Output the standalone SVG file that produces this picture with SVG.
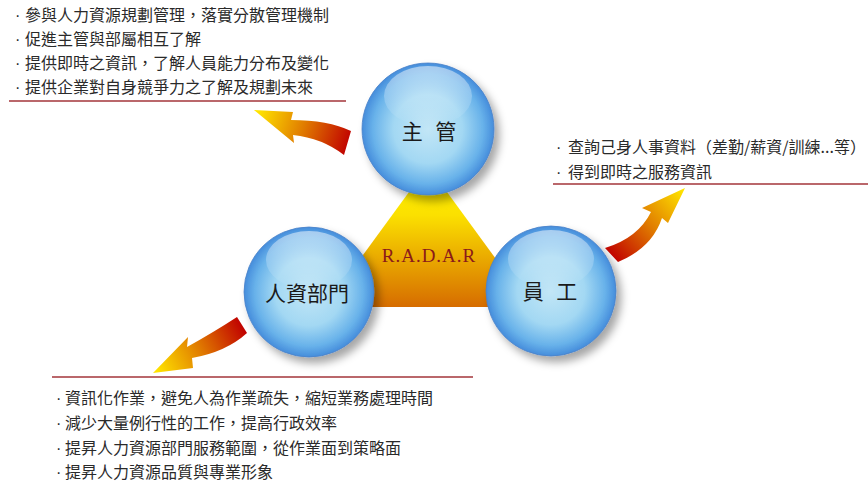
<svg xmlns="http://www.w3.org/2000/svg" width="868" height="482" viewBox="0 0 868 482">
<style>
.lst{font-family:"Noto Sans CJK TC","Noto Sans CJK SC",sans-serif;font-size:16px;fill:#2a2a2a;}
.bul{font-family:"Liberation Sans",Arial,sans-serif;font-size:16px;fill:#2a2a2a;}
.lbl{font-family:"Noto Sans CJK TC","Noto Sans CJK SC",sans-serif;font-size:21px;fill:#1a1a1a;text-anchor:middle;}
.rule{stroke:#a3343a;stroke-width:1.6;fill:none;}
.ball{fill:url(#ballG);stroke:#4a82c8;stroke-width:0.8;filter:url(#sh);}
.hl{fill:url(#hlG);}
</style>
<defs>
<radialGradient id="ballG" cx="50%" cy="50%" r="52%">
<stop offset="0" stop-color="#c2e6f6"/>
<stop offset="0.5" stop-color="#a3d8f3"/>
<stop offset="0.8" stop-color="#68b2ea"/>
<stop offset="1" stop-color="#3d84d8"/>
</radialGradient>
<linearGradient id="hlG" x1="0" y1="0" x2="0" y2="1">
<stop offset="0" stop-color="#ffffff" stop-opacity="0.5"/>
<stop offset="1" stop-color="#ffffff" stop-opacity="0"/>
</linearGradient>
<linearGradient id="triG" x1="0" y1="166" x2="0" y2="307" gradientUnits="userSpaceOnUse">
<stop offset="0" stop-color="#fff500"/>
<stop offset="0.35" stop-color="#fbe000"/>
<stop offset="1" stop-color="#d66c00"/>
</linearGradient>
<linearGradient id="a1G" x1="350" y1="143" x2="258" y2="112" gradientUnits="userSpaceOnUse">
<stop offset="0" stop-color="#c00000"/>
<stop offset="0.5" stop-color="#e07a00"/>
<stop offset="1" stop-color="#ffe400"/>
</linearGradient>
<linearGradient id="a2G" x1="610" y1="256" x2="683" y2="190" gradientUnits="userSpaceOnUse">
<stop offset="0" stop-color="#c00000"/>
<stop offset="0.5" stop-color="#e07a00"/>
<stop offset="1" stop-color="#ffe400"/>
</linearGradient>
<linearGradient id="a3G" x1="243" y1="325" x2="156" y2="370" gradientUnits="userSpaceOnUse">
<stop offset="0" stop-color="#c00000"/>
<stop offset="0.5" stop-color="#e07a00"/>
<stop offset="1" stop-color="#ffe400"/>
</linearGradient>
<filter id="sh" x="-30%" y="-30%" width="170%" height="170%">
<feDropShadow dx="5" dy="6" stdDeviation="4" flood-color="#000" flood-opacity="0.35"/>
</filter>
</defs>
<rect width="868" height="482" fill="#ffffff"/>

<g id="node-radar">
<polygon points="428,166 325,307 531,307" fill="url(#triG)"/>
<text x="429" y="262" text-anchor="middle" font-family="Liberation Serif, serif" font-size="19" letter-spacing="1" fill="#8b1a1a">R.A.D.A.R</text>
</g>

<g id="node-supervisor">
<circle class="ball" cx="428" cy="129" r="66"/>
<ellipse class="hl" cx="428" cy="96" rx="44" ry="30"/>
<text class="lbl" x="431" y="139" letter-spacing="4">主 管</text>
</g>

<g id="node-hr">
<circle class="ball" cx="309" cy="292" r="65"/>
<ellipse class="hl" cx="309" cy="260" rx="43" ry="29"/>
<text class="lbl" x="307" y="301">人資部門</text>
</g>

<g id="node-employee">
<circle class="ball" cx="551" cy="291" r="65"/>
<ellipse class="hl" cx="551" cy="259" rx="43" ry="29"/>
<text class="lbl" x="552" y="299" letter-spacing="4">員 工</text>
</g>

<g id="connectors">
<path d="M254 110 L293 112 L291 120 Q328 120 351 131 L344 155 Q322 138 293 135 L294 143 Z" fill="url(#a1G)"/>
<path d="M685 188 L668 223 L662 218 Q652 248 618 262 L605 248 Q638 238 651 212 L642 208 Z" fill="url(#a2G)"/>
<path d="M153 373 L188 337 L187 347 Q214 332 237 317 L247 333 Q226 352 192 358 L193 368 Z" fill="url(#a3G)"/>
</g>

<g id="list-supervisor">
<text class="lst" y="21"><tspan class="bul" x="15">·</tspan><tspan x="25">參與人力資源規劃管理，落實分散管理機制</tspan></text>
<text class="lst" y="45"><tspan class="bul" x="15">·</tspan><tspan x="25">促進主管與部屬相互了解</tspan></text>
<text class="lst" y="69"><tspan class="bul" x="15">·</tspan><tspan x="25">提供即時之資訊，了解人員能力分布及變化</tspan></text>
<text class="lst" y="93"><tspan class="bul" x="15">·</tspan><tspan x="25">提供企業對自身競爭力之了解及規劃未來</tspan></text>
<line class="rule" x1="9" y1="101" x2="346" y2="101"/>
</g>

<g id="list-employee">
<text class="lst" y="153"><tspan class="bul" x="556">·</tspan><tspan x="568">查詢己身人事資料（差勤/薪資/訓練...等）</tspan></text>
<text class="lst" y="178"><tspan class="bul" x="556">·</tspan><tspan x="568">得到即時之服務資訊</tspan></text>
<line class="rule" x1="553" y1="184" x2="868" y2="184"/>
</g>

<g id="list-hr">
<line class="rule" x1="52" y1="377" x2="473" y2="377"/>
<text class="lst" y="404"><tspan class="bul" x="56">·</tspan><tspan x="65">資訊化作業，避免人為作業疏失，縮短業務處理時間</tspan></text>
<text class="lst" y="429"><tspan class="bul" x="56">·</tspan><tspan x="65">減少大量例行性的工作，提高行政效率</tspan></text>
<text class="lst" y="454"><tspan class="bul" x="56">·</tspan><tspan x="65">提昇人力資源部門服務範圍，從作業面到策略面</tspan></text>
<text class="lst" y="478"><tspan class="bul" x="56">·</tspan><tspan x="65">提昇人力資源品質與專業形象</tspan></text>
</g>
</svg>
